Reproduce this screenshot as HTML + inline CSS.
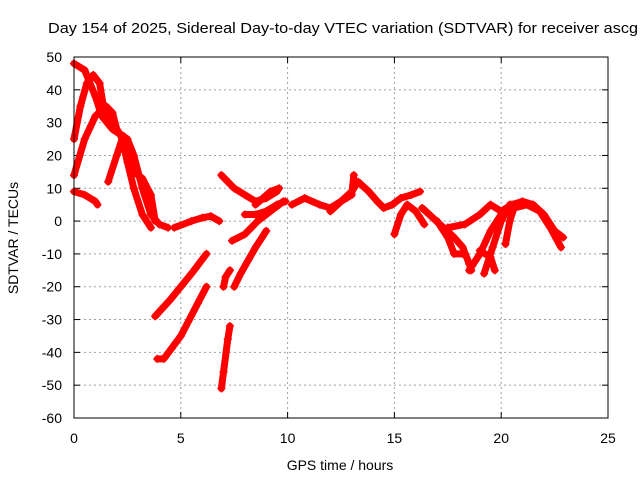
<!DOCTYPE html>
<html><head><meta charset="utf-8"><style>
body{margin:0;background:#fff}
text{font-family:"Liberation Sans",sans-serif;font-size:14px;fill:#000}
</style></head><body>
<svg id="chart" width="640" height="480" xmlns="http://www.w3.org/2000/svg">
<rect width="640" height="480" fill="#fff"/>
<text x="48" y="33" style="font-size:15px" textLength="590" lengthAdjust="spacingAndGlyphs">Day 154 of 2025, Sidereal Day-to-day VTEC variation (SDTVAR) for receiver ascg</text>
<g id="grid"></g>
<g id="ticks"></g>
<g id="series"></g>
<rect x="74" y="57" width="534" height="361" fill="none" stroke="#000" stroke-width="1"/>
<text x="340" y="470" text-anchor="middle">GPS time / hours</text>
<text transform="translate(18,238) rotate(-90)" text-anchor="middle">SDTVAR / TECUs</text>
</svg>
<script>
const xTicks=[0,5,10,15,20,25];
const yTicks=[50,40,30,20,10,0,-10,-20,-30,-40,-50,-60];
const trackA=[[0,48],[0.5,46],[1,38],[1.3,32],[1.8,28],[2.5,25],[2.8,20],[3.2,10],[3.6,2],[4.0,-1],[4.4,-2]];
const trackB=[[0,25],[0.3,35],[0.6,42],[0.9,44.5],[1.2,42],[1.4,34],[1.7,30],[2.2,26],[2.5,18],[2.8,10],[3.2,2],[3.6,-2]];
const trackC=[[0,14],[0.5,25],[1.0,32],[1.5,35],[1.8,33],[2.0,28],[2.4,24],[2.8,15],[3.2,13],[3.6,8],[3.8,0]];
const trackD=[[1.6,12],[2.0,20],[2.3,26]];
const trackE=[[0,9],[0.5,8],[1.0,6],[1.1,5]];
const trackF=[[4.7,-2],[5.5,0],[6.0,1],[6.4,1.5],[6.8,0]];
const trackG=[[3.8,-29],[4.5,-24],[5.5,-16],[6.2,-10]];
const trackH=[[3.9,-42],[4.2,-42],[5.0,-35],[5.8,-25],[6.2,-20]];
const trackI=[[6.9,-51],[7.0,-46],[7.2,-36],[7.3,-32]];
const trackJ=[[7.0,-20],[7.1,-17],[7.3,-15]];
const trackK=[[7.5,-20],[7.8,-16],[8.5,-8],[9.0,-3]];
const trackL=[[7.4,-6],[8.0,-4],[8.6,0],[9.2,3],[9.6,5],[9.8,6]];
const trackM=[[6.9,14],[7.5,10],[8.0,8],[8.5,6],[9.0,7],[9.5,9]];
const trackN=[[8.0,2],[8.5,2],[9.0,3],[9.5,5],[9.9,6]];
const trackO=[[8.5,5],[9.2,9],[9.6,10]];
const trackP=[[10.2,5],[10.8,7],[11.5,5],[12.0,4],[12.5,6],[13.0,9],[13.2,11]];
const trackQ=[[12.0,3],[12.5,6],[13.0,8],[13.1,14]];
const trackR=[[13.3,12],[13.8,9],[14.2,6],[14.5,4],[14.9,5],[15.3,7],[15.8,8],[16.2,9]];
const trackS=[[15.0,-4],[15.3,2],[15.6,5],[16.0,3],[16.4,-1]];
const trackT=[[16.3,4],[16.8,1],[17.3,-2],[17.8,-5],[18.2,-8],[18.5,-13],[18.6,-15]];
const trackU=[[17.0,0],[17.5,-5],[17.8,-10],[18.2,-10]];
const trackV=[[17.5,-2],[18.3,-1],[19.0,2],[19.5,5],[20.0,3],[20.5,5],[21.0,6],[21.5,5],[22.0,2],[22.5,-3],[22.9,-5]];
const trackW=[[18.5,-15],[19.0,-10],[19.5,-3],[20.0,2],[20.5,4]];
const trackX=[[19.2,-16],[19.6,-8],[20.0,0],[20.4,5]];
const trackY=[[19.0,-9],[19.5,-11],[19.7,-15]];
const trackZ=[[20.2,-7],[20.4,0],[20.6,4],[21.2,5],[21.8,3],[22.3,-2],[22.8,-8]];
const tracks=[trackA,trackB,trackC,trackD,trackE,trackF,trackG,trackH,trackI,trackJ,trackK,trackL,trackM,trackN,trackO,trackP,trackQ,trackR,trackS,trackT,trackU,trackV,trackW,trackX,trackY,trackZ];

const NS='http://www.w3.org/2000/svg';
const X0=74,X1=608,Y0=418,Y1=57;
function xs(t){return X0+(t-0)/(25-0)*(X1-X0);}
function ys(v){return Y0-(v+60)/(110)*(Y0-Y1);}
function mk(tag,attrs,parent){const e=document.createElementNS(NS,tag);for(const k in attrs)e.setAttribute(k,attrs[k]);parent.appendChild(e);return e;}
const grid=document.getElementById('grid'),ticks=document.getElementById('ticks'),ser=document.getElementById('series');
xTicks.forEach(t=>{
  const x=xs(t);
  if(t>0&&t<25){const g=mk('line',{x1:x,x2:x,y1:Y1,y2:Y0,stroke:'#a0a0a0','stroke-dasharray':'2,3'},grid);
  
  }
  mk('line',{x1:x,x2:x,y1:Y0,y2:Y0-6,stroke:'#000'},ticks);
  mk('line',{x1:x,x2:x,y1:Y1,y2:Y1+6,stroke:'#000'},ticks);
  const l=mk('text',{x:x,y:443,'text-anchor':'middle'},ticks);l.textContent=t;
  
  
});
yTicks.forEach(v=>{
  const y=ys(v);
  if(v<50&&v>-60){const g=mk('line',{x1:X0,x2:X1,y1:y,y2:y,stroke:'#a0a0a0','stroke-dasharray':'2,3'},grid);
  
  }
  mk('line',{x1:X0,x2:X0+6,y1:y,y2:y,stroke:'#000'},ticks);
  mk('line',{x1:X1,x2:X1-6,y1:y,y2:y,stroke:'#000'},ticks);
  const l=mk('text',{x:62,y:y+5,'text-anchor':'end'},ticks);l.textContent=v;
  
  
});
tracks.forEach(tr=>{
  const p=mk('polyline',{points:tr.map(d=>xs(d[0])+','+ys(d[1])).join(' '),fill:'none',stroke:'#f00','stroke-width':7,'stroke-linejoin':'round','stroke-linecap':'round'},ser);
  
  
  tr.forEach(d=>{
    const x=xs(d[0]),y=ys(d[1]);
    const m=mk('path',{d:`M${x-4},${y}H${x+4}M${x},${y-4}V${y+4}`,stroke:'#f00','stroke-width':1.5},ser);
    
    
  });
});
</script>
</body></html>
